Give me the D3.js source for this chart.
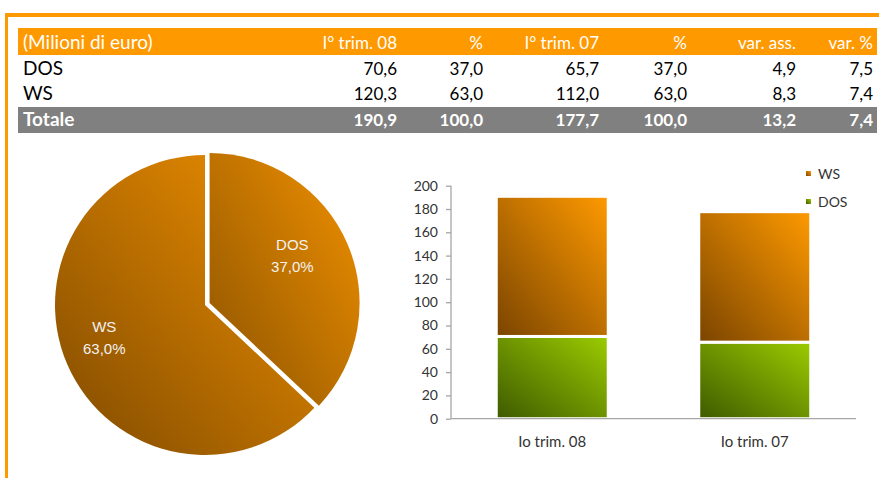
<!DOCTYPE html>
<html>
<head>
<meta charset="utf-8">
<script src="https://cdn.jsdelivr.net/npm/d3@7/dist/d3.min.js"></script>
<style>
  body { margin: 0; background: #fff; }
  svg { display: block; }
</style>
</head>
<body>
<script>
// Dati della tabella (milioni di euro)
var intestazioni = ["(Milioni di euro)", "I\u00b0 trim. 08", "%", "I\u00b0 trim. 07", "%", "var. ass.", "var. %"];
var segmenti = ["DOS", "WS"];
var trim08 = [70.6, 120.3];
var perc08 = [37.0, 63.0];
var trim07 = [65.7, 112.0];
var perc07 = [37.0, 63.0];
var varAss = [4.9, 8.3];
var varPerc = [7.5, 7.4];
var totale = [190.9, 100.0, 177.7, 100.0, 13.2, 7.4];

// Dati del grafico a barre
var periodi = ["Io trim. 08", "Io trim. 07"];
var yTicks = [0, 20, 40, 60, 80, 100, 120, 140, 160, 180, 200];

var W = 879, H = 478;
var arancio = "#ff9900";
var fmt = function(v){ return d3.format(".1f")(v).replace(".", ","); };

var svg = d3.select("body").append("svg")
  .attr("width", W).attr("height", H);

var defs = svg.append("defs");
function gradiente(id, scuro, chiaro){
  var g = defs.append("linearGradient").attr("id", id)
    .attr("x1", 0).attr("y1", 1).attr("x2", 1).attr("y2", 0);
  g.append("stop").attr("offset", "0%").attr("stop-color", scuro);
  g.append("stop").attr("offset", "100%").attr("stop-color", chiaro);
}
gradiente("gPieWS", "#7f4a00", "#f39200");
gradiente("gPieDOS", "#8a5200", "#f39200");
gradiente("gBarWS", "#7a4400", "#ff9a00");
gradiente("gBarDOS", "#3d5a00", "#9ccc00");

// Cornice arancio
svg.append("rect").attr("x", 5).attr("y", 13).attr("width", W - 5).attr("height", 4).attr("fill", arancio);
svg.append("rect").attr("x", 5).attr("y", 13).attr("width", 3).attr("height", H - 13).attr("fill", arancio);

/************ Tabella ************/
var tab = svg.append("g").style("font-family", "Lato, 'Open Sans', sans-serif").style("font-size", "17px");
var colDx = [397, 483, 599, 687, 796, 873];
var xSin = 23;

tab.append("rect").attr("x", 18).attr("y", 28).attr("width", 859).attr("height", 27).attr("fill", arancio);
tab.append("rect").attr("x", 18).attr("y", 107).attr("width", 859).attr("height", 26).attr("fill", "#808080");

function riga(y, celle, colore, peso){
  celle.forEach(function(t, i){
    tab.append("text")
      .attr("x", i === 0 ? xSin : colDx[i - 1]).attr("y", y)
      .attr("text-anchor", i === 0 ? "start" : "end")
      .attr("fill", colore).style("font-weight", peso)
      .style("font-size", i === 0 ? "19px" : null)
      .text(t);
  });
}
riga(49, intestazioni, "#fff", 400);
segmenti.forEach(function(s, i){
  riga(75 + i * 25, [s, fmt(trim08[i]), fmt(perc08[i]), fmt(trim07[i]), fmt(perc07[i]), fmt(varAss[i]), fmt(varPerc[i])], "#000", 400);
});
riga(126, ["Totale"].concat(totale.map(fmt)), "#fff", 700);

/************ Torta ************/
var raggio = 150;
var cx = 205, cy = 305;
var pie = d3.pie().sort(null).value(function(d){ return d.v; });
var fette = pie(segmenti.map(function(s, i){ return {k: s, v: perc08[i]}; }));
var arc = d3.arc().innerRadius(0).outerRadius(raggio);
var arcLab = d3.arc().innerRadius(100).outerRadius(100);

var torta = svg.append("g").attr("transform", "translate(" + cx + "," + cy + ")");
fette.forEach(function(d){
  var esplodi = d.data.k === "DOS" ? 5 : 0;
  var mid = (d.startAngle + d.endAngle) / 2;
  var g = torta.append("g")
    .attr("transform", "translate(" + (Math.sin(mid) * esplodi) + "," + (-Math.cos(mid) * esplodi) + ")");
  g.append("path").attr("d", arc(d)).attr("fill", "url(#gPie" + d.data.k + ")");
  var c = arcLab.centroid(d);
  c = [c[0] - 9, c[1] - 8];
  var t = g.append("text").attr("text-anchor", "middle")
    .style("font-family", "'Liberation Sans', Arial, sans-serif").style("font-size", "15px")
    .attr("fill", "#f2f2f2");
  t.append("tspan").attr("x", c[0]).attr("y", c[1] - 5).text(d.data.k);
  t.append("tspan").attr("x", c[0]).attr("y", c[1] + 17).text(fmt(d.data.v) + "%");
});

/************ Barre ************/
var x0 = 451, x1 = 856, yTop = 185.7, yBase = 418.7;
var x = d3.scaleBand().domain(periodi).range([x0, x1]).paddingInner(0.447).paddingOuter(0.2235);
var y = d3.scaleLinear().domain([0, 200]).range([yBase, yTop]);

var datiBarre = periodi.map(function(p, i){
  return {periodo: p, DOS: i === 0 ? trim08[0] : trim07[0], WS: i === 0 ? trim08[1] : trim07[1]};
});
var stack = d3.stack().keys(segmenti)(datiBarre);

var barre = svg.append("g");
stack.forEach(function(serie){
  barre.selectAll(null).data(serie).enter().append("rect")
    .attr("x", function(d){ return x(d.data.periodo); })
    .attr("width", x.bandwidth())
    .attr("y", function(d){ return y(d[1]); })
    .attr("height", function(d){ return y(d[0]) - y(d[1]); })
    .attr("fill", "url(#gBar" + serie.key + ")")
    .attr("stroke", "#fff").attr("stroke-width", 3);
});

var asseY = svg.append("g").attr("transform", "translate(" + x0 + ",0)")
  .call(d3.axisLeft(y).tickValues(yTicks).tickSize(5).tickPadding(8));
var asseX = svg.append("g").attr("transform", "translate(0," + yBase + ")")
  .call(d3.axisBottom(x).tickSize(0).tickPadding(18));
[asseY, asseX].forEach(function(a){
  a.selectAll("path, line").attr("stroke", "#a6a6a6").attr("stroke-width", 1.3);
  a.selectAll("text").attr("fill", "#333")
    .style("font-family", "Lato, 'Open Sans', sans-serif").style("font-size", "14px");
});
asseX.selectAll("text").style("font-size", "15px");
asseY.select(".domain").attr("d", "M-0," + yBase + "V" + yTop);
asseX.select(".domain").attr("d", "M" + x0 + ",0H" + x1);

// Legenda
var leg = svg.append("g").style("font-family", "Lato, 'Open Sans', sans-serif").style("font-size", "14px");
["WS", "DOS"].forEach(function(k, i){
  leg.append("rect").attr("x", 806).attr("y", 171 + i * 28).attr("width", 5).attr("height", 5)
    .attr("fill", "url(#gBar" + k + ")");
  leg.append("text").attr("x", 818).attr("y", 179 + i * 28).attr("fill", "#333").text(k);
});
</script>
</body>
</html>
